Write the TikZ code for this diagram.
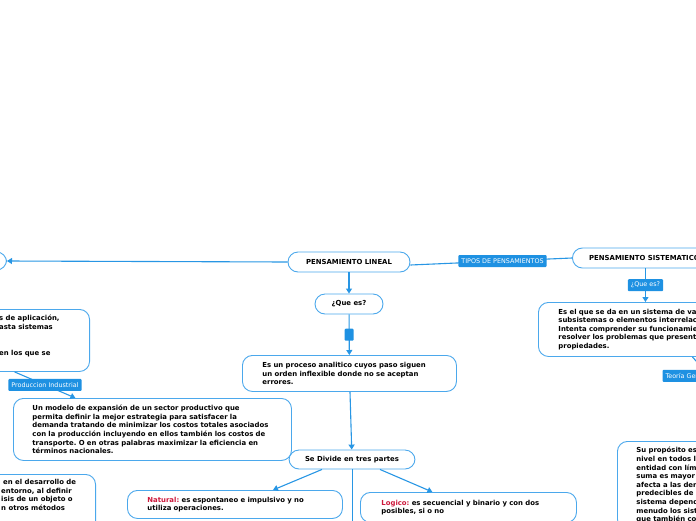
\documentclass[tikz,border=0pt]{standalone}
\usepackage{fontspec}
\setmainfont{DejaVu Sans}
\usetikzlibrary{arrows.meta, positioning}
\definecolor{mapblue}{RGB}{40,150,228}
\definecolor{boxblue}{RGB}{75,168,236}
\definecolor{tagblue}{RGB}{30,145,226}
\definecolor{mapred}{RGB}{205,25,60}

\begin{document}
\begin{tikzpicture}[x=1pt, y=-1pt,
  box/.style={rectangle, rounded corners=10pt, draw=boxblue, line width=0.9pt,
              fill=white, inner xsep=20pt, inner ysep=3pt, align=left,
              font=\fontsize{6.9}{8.6}\selectfont\bfseries\frenchspacing},
  cbox/.style={box, align=center, inner xsep=6pt},
  tag/.style={rectangle, rounded corners=1pt, fill=tagblue, text=white,
              inner xsep=3pt, inner ysep=1pt, minimum height=12pt,
              font=\fontsize{6.4}{7.5}\selectfont},
  frag/.style={inner sep=0pt, anchor=north west, align=left,
               font=\fontsize{6.9}{8.6}\selectfont\bfseries\frenchspacing},
  link/.style={draw=mapblue, line width=1.1pt},
  arrow/.style={link, -{Triangle[length=5pt, width=6pt]}}
]
  \useasboundingbox (0,0) rectangle (696,520);
  \clip (0,0) rectangle (696,520);

  % centre column
  \node[cbox, minimum width=122pt, minimum height=20pt] (lineal) at (349,262)
    {PENSAMIENTO LINEAL};
  \node[cbox, minimum width=68pt, minimum height=20pt] (quees) at (349,304)
    {¿Que es?};
  \node[box, text width=174pt, minimum height=36pt, anchor=north west] (proceso) at (242,355)
    {Es un proceso analitico cuyos paso siguen\\un orden inflexible donde no se aceptan\\errores.};
  \node[cbox, minimum width=126pt, minimum height=19pt] (divide) at (352,459.5)
    {Se Divide en tres partes};
  \node[box, text width=175pt, minimum height=28pt, anchor=north west] (natural) at (127,490)
    {\textcolor{mapred}{Natural:} es espontaneo e impulsivo y no\\utiliza operaciones.};
  \node[box, text width=174pt, inner xsep=21pt, minimum height=30pt, anchor=north west] (logico) at (360,492)
    {\textcolor{mapred}{Logico:} es secuencial y binario y con dos\\posibles, si o no};
  \coordinate (tercera) at (352.5,540);

  % left side
  \node[cbox, minimum width=70pt, minimum height=18pt, anchor=east] (izq) at (7,261) {};
  \node[cbox, minimum width=240pt, minimum height=62pt, anchor=north east] (tlbox) at (90,309) {};
  \node[frag] (tltexto) at (-1,315)
    {s de aplicación,\\asta sistemas\\[17.2pt]en los que se};
  \node[box, text width=240pt, inner xsep=19pt, minimum height=62pt, anchor=north west] (modelo) at (13,398)
    {Un modelo de expansión de un sector productivo que\\
     permita definir la mejor estrategia para satisfacer la\\
     demanda tratando de minimizar los costos totales asociados\\
     con la producción incluyendo en ellos también los costos de\\
     transporte. O en otras palabras maximizar la eficiencia en\\
     términos nacionales.};
  \node[cbox, minimum width=240pt, minimum height=60pt, anchor=north east] (blbox) at (96,474) {};
  \node[frag] (bltexto) at (1,479)
    {\hspace{2pt}en el desarrollo de\\entorno, al definir\\isis de un objeto o\\n otros métodos};

  % right side
  \node[cbox, minimum width=144pt, minimum height=20pt, anchor=west] (sistematico) at (572,258)
    {PENSAMIENTO SISTEMATICO};
  \node[box, text width=260pt, minimum height=54pt, anchor=north west] (sistbox) at (538,302)
    {Es el que se da en un sistema de varios\\subsistemas o elementos interrelacionados.\\
     Intenta comprender su funcionamiento\\resolver los problemas que presentan\\propiedades.};
  \node[box, text width=200pt, inner xsep=19pt, inner ysep=6pt, anchor=north west] (proposito) at (617,441)
    {Su propósito es\\nivel en todos los\\entidad con límites\\suma es mayor\\afecta a las demás\\
     predecibles de\\sistema depende\\menudo los sistemas\\que también con};
  \coordinate (teoriafin) at (726,395);

  % connectors
  \draw[arrow] (lineal.west) -- (izq.east);
  \draw[link] ([yshift=-3pt]lineal.east) -- node[tag, pos=0.57] (tipos) {TIPOS DE PENSAMIENTOS}
    (sistematico.west);
  \draw[arrow] (lineal) -- (quees);
  \draw[arrow] (quees) -- node[rectangle, fill=tagblue, rounded corners=1pt, minimum width=9pt,
    minimum height=12pt, inner sep=0pt] (marca) {} (proceso);
  \draw[arrow] (proceso) -- (divide);
  \draw[arrow] ([xshift=-30pt]divide.south) -- ([xshift=38pt]natural.north);
  \draw[arrow] ([xshift=28pt]divide.south) -- ([xshift=-36pt]logico.north);
  \draw[link] ([xshift=0.5pt]divide.south) -- (tercera);
  \draw[arrow] ([xshift=45pt]tlbox.south) -- node[tag] (industria) {Produccion Industrial}
    ([xshift=-77pt]modelo.north);
  \draw[arrow] ([xshift=1pt]sistematico.south) -- node[tag] (quees2) {¿Que es?}
    ([xshift=-43pt]sistbox.north);
  \draw[link] ([xshift=4pt]sistbox.south) -- node[tag] (teoria) {Teoría General de Sistemas} (teoriafin);
\end{tikzpicture}
\end{document}
